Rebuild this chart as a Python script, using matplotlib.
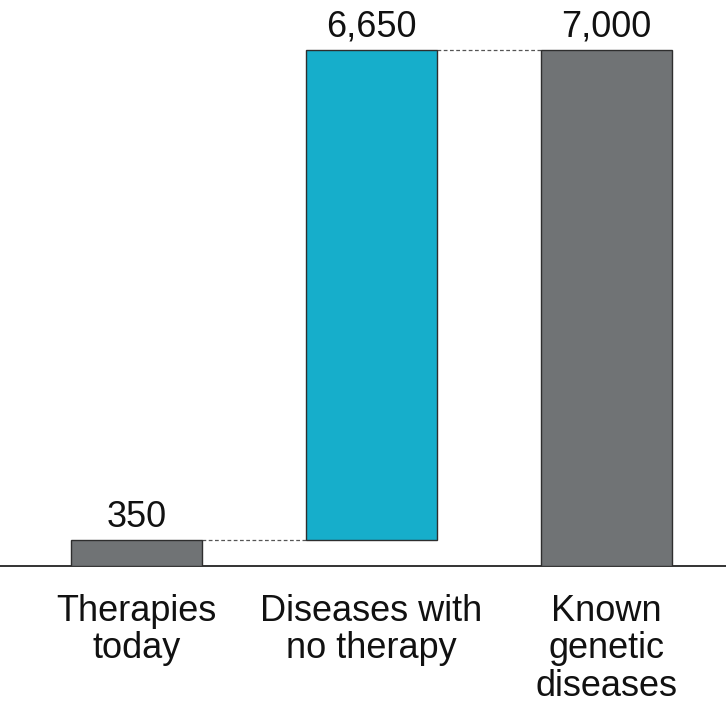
import matplotlib
matplotlib.use("Agg")
import matplotlib.pyplot as plt

categories = ["Therapies\ntoday", "Diseases with\nno therapy", "Known\ngenetic\ndiseases"]
values = [350, 6650, 7000]
value_labels = ["350", "6,650", "7,000"]

gray = "#707375"
cyan = "#16AECB"
colors = [gray, cyan, gray]

# waterfall bottoms: first bar from 0, second stacks on first, total from 0
bottoms = [0, values[0], 0]

plt.rcParams["font.family"] = ["Liberation Sans", "DejaVu Sans"]

fig = plt.figure(figsize=(7.26, 7.07), dpi=100)
ax = fig.add_axes([0.0, 1 - 566 / 707, 1.0, 566 / 707])

width = 0.557
x = list(range(len(values)))
ax.bar(x, values, width=width, bottom=bottoms, color=colors,
       edgecolor="#2e2e2e", linewidth=1.0, zorder=3)

# dashed connectors between bar tops
tops = [b + v for b, v in zip(bottoms, values)]
for i in range(len(values) - 1):
    ax.plot([x[i] + width / 2, x[i + 1] - width / 2], [tops[i], tops[i]],
            linestyle=(0, (3, 2)), color="#555555", linewidth=0.9, zorder=2)

for xi, t, lab in zip(x, tops, value_labels):
    ax.annotate(lab, (xi, t), xytext=(0, 9.4), textcoords="offset points",
                ha="center", va="baseline", fontsize=26, color="#111111")

ax.set_xlim(-0.581, 2.5085)
ax.set_ylim(0, 7000 * 566 / 516)

for s in ["top", "right", "left"]:
    ax.spines[s].set_visible(False)
ax.spines["bottom"].set_color("#111111")
ax.spines["bottom"].set_linewidth(1.2)

ax.set_yticks([])
ax.set_xticks(x)
ax.set_xticklabels(categories, fontsize=26, color="#111111", linespacing=1.09)
ax.tick_params(axis="x", length=0, pad=20)

fig.savefig("out.png", dpi=100)
